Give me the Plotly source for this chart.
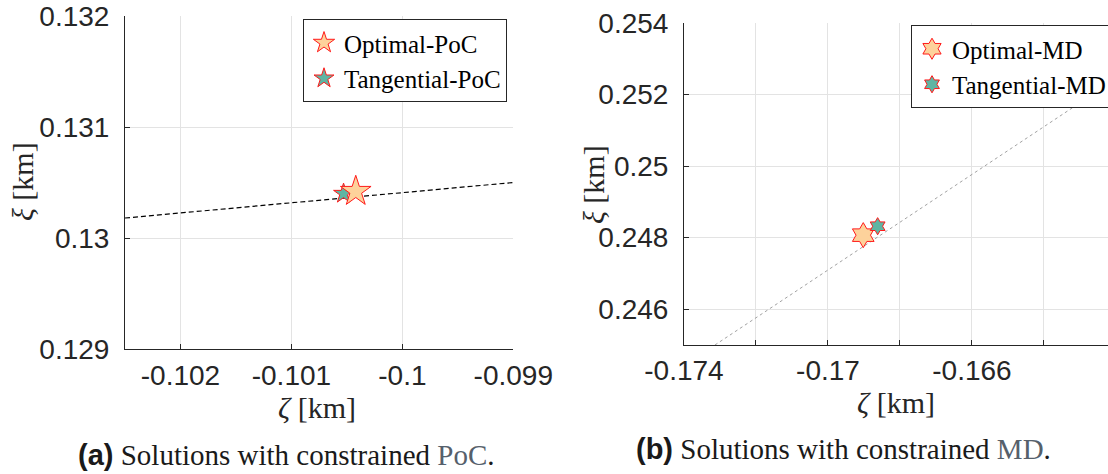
import plotly.graph_objects as go

# ---- data: panel (a), constrained PoC ----
poc_line_x = [-0.1025, -0.099]
poc_line_y = [0.13018, 0.13050]
poc_opt_x, poc_opt_y = [-0.10042], [0.13042]
poc_tan_x, poc_tan_y = [-0.10053], [0.13040]
a_xticks = [-0.102, -0.101, -0.1, -0.099]
a_xlabels = ["-0.102", "-0.101", "-0.1", "-0.099"]
a_yticks = [0.129, 0.130, 0.131, 0.132]
a_ylabels = ["0.129", "0.13", "0.131", "0.132"]

# ---- data: panel (b), constrained MD ----
md_line_x = [-0.17314, -0.16222]
md_line_y = [0.24500, 0.25229]
md_opt_x, md_opt_y = [-0.16902], [0.24807]
md_tan_x, md_tan_y = [-0.16862], [0.24832]
b_xticks = [-0.174, -0.172, -0.170, -0.168, -0.166, -0.164]
b_xlabels = ["-0.174", "", "-0.17", "", "-0.166", ""]
b_yticks = [0.246, 0.248, 0.250, 0.252, 0.254]
b_ylabels = ["0.246", "0.248", "0.25", "0.252", "0.254"]

W, H = 1108, 474
SERIF = "Liberation Serif"
SANS = "Liberation Sans"
OPT_FILL = "#FDD29B"
TAN_FILL = "#5FB5A3"
EDGE = "#FF1A1A"
AX = "#262626"
GRID = "#E3E3E3"

fig = go.Figure()

# panel (a)
fig.add_trace(go.Scatter(x=poc_line_x, y=poc_line_y, mode="lines",
                         line=dict(color="black", width=1.2, dash="5px,3px"),
                         showlegend=False, xaxis="x", yaxis="y"))
fig.add_trace(go.Scatter(x=poc_tan_x, y=poc_tan_y, mode="markers", name="Tangential-PoC",
                         marker=dict(symbol="star", size=15, color=TAN_FILL,
                                     line=dict(color=EDGE, width=1)),
                         legend="legend", legendrank=2, xaxis="x", yaxis="y"))
fig.add_trace(go.Scatter(x=poc_opt_x, y=poc_opt_y, mode="markers", name="Optimal-PoC",
                         marker=dict(symbol="star", size=23, color=OPT_FILL,
                                     line=dict(color=EDGE, width=1)),
                         legend="legend", legendrank=1, xaxis="x", yaxis="y"))

# panel (b)
fig.add_trace(go.Scatter(x=md_line_x, y=md_line_y, mode="lines",
                         line=dict(color="#8a8a8a", width=0.8, dash="dot"),
                         showlegend=False, xaxis="x2", yaxis="y2"))
fig.add_trace(go.Scatter(x=md_opt_x, y=md_opt_y, mode="markers", name="Optimal-MD",
                         marker=dict(symbol="hexagram", size=19, color=OPT_FILL,
                                     line=dict(color=EDGE, width=1)),
                         legend="legend2", legendrank=1, xaxis="x2", yaxis="y2"))
fig.add_trace(go.Scatter(x=md_tan_x, y=md_tan_y, mode="markers", name="Tangential-MD",
                         marker=dict(symbol="hexagram", size=13, color=TAN_FILL,
                                     line=dict(color=EDGE, width=1)),
                         legend="legend2", legendrank=2, xaxis="x2", yaxis="y2"))

tickfont = dict(family=SANS, size=28, color=AX)
common = dict(showline=True, linecolor=AX, linewidth=1, mirror=False,
              showgrid=True, gridcolor=GRID, gridwidth=1, zeroline=False,
              ticks="inside", ticklen=5, tickcolor=AX, tickfont=tickfont,
              tickmode="array", automargin=False)

legend_style = dict(xanchor="left", yanchor="top", bgcolor="white",
                    bordercolor=AX, borderwidth=1,
                    font=dict(family=SERIF, size=25, color="black"),
                    tracegroupgap=0, itemwidth=30, itemsizing="trace")

fig.update_layout(
    width=W, height=H, autosize=False,
    margin=dict(l=0, r=0, t=0, b=0, autoexpand=False),
    paper_bgcolor="white", plot_bgcolor="white",
    xaxis=dict(domain=[125 / W, 513.3 / W], range=[-0.1025, -0.099], anchor="y",
               tickvals=a_xticks, ticktext=a_xlabels, ticklabelstandoff=1, **common),
    yaxis=dict(domain=[(H - 349) / H, (H - 16) / H], range=[0.129, 0.132], anchor="x",
               tickvals=a_yticks, ticktext=a_ylabels, ticklabelstandoff=9, **common),
    xaxis2=dict(domain=[684 / W, 1.0], range=[-0.174, -0.16222], anchor="y2",
                tickvals=b_xticks, ticktext=b_xlabels, ticklabelstandoff=0, **common),
    yaxis2=dict(domain=[(H - 345) / H, (H - 23) / H], range=[0.245, 0.254], anchor="x2",
                tickvals=b_yticks, ticktext=b_ylabels, ticklabelstandoff=9, **common),
    legend=dict(x=303 / W, y=(H - 19) / H, **legend_style),
    legend2=dict(x=911 / W, y=(H - 25) / H, **legend_style),
)

label_font = dict(family=SERIF, size=30, color=AX)
annotations = [
    dict(text="<i>ξ</i> [km]", x=22, y=182, textangle=-90),
    dict(text="<i>ζ</i> [km]", x=317, y=407, textangle=0),
    dict(text="<i>ξ</i> [km]", x=593, y=184, textangle=-90),
    dict(text="<i>ζ</i> [km]", x=896, y=402, textangle=0),
]
for a in annotations:
    fig.add_annotation(text=a["text"], x=a["x"] / W, y=(H - a["y"]) / H,
                       xref="paper", yref="paper", xanchor="center", yanchor="middle",
                       textangle=a["textangle"], showarrow=False, font=label_font)

captions = [
    ("(a)", "PoC", 286, 455),
    ("(b)", "MD", 843, 449),
]
for tag, key, cx, cy in captions:
    txt = (f'<span style="font-family:{SANS}"><b>{tag}</b></span> Solutions with constrained '
           f'<span style="color:#56606B">{key}</span>.')
    fig.add_annotation(text=txt, x=cx / W, y=(H - cy) / H, xref="paper", yref="paper",
                       xanchor="center", yanchor="middle", showarrow=False,
                       font=dict(family=SERIF, size=29, color="#1a1a1a"))

fig.write_html("out.html")
